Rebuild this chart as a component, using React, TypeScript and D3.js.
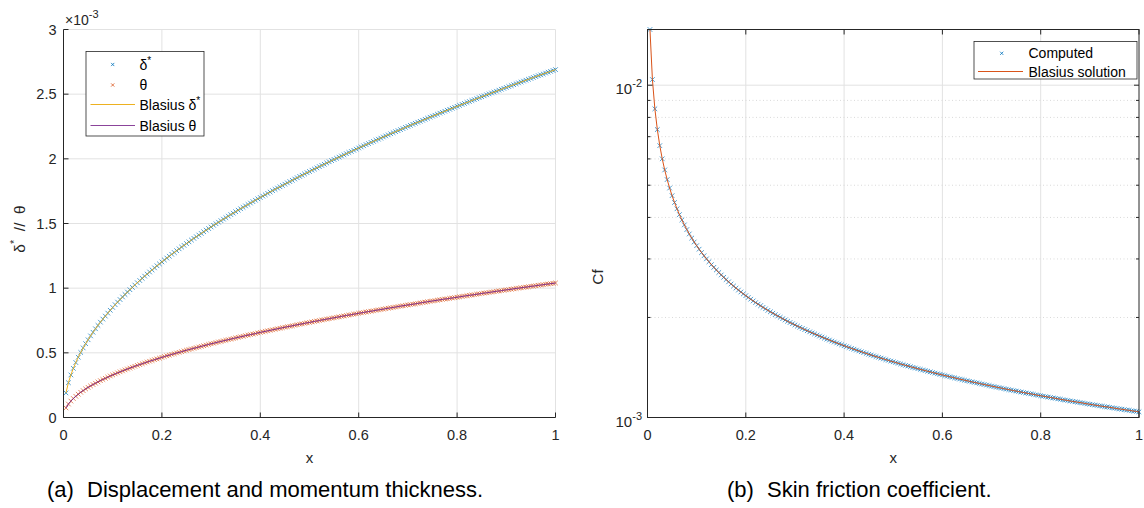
import React from "react";
import * as d3 from "d3";

// sample spacing of the computed stations along the plate
const X_STEP = 0.005;

// displacement thickness δ*, in units of 1e-3
const deltaStar = [
  0.190, 0.269, 0.329, 0.380, 0.425, 0.466, 0.503, 0.538, 0.571, 0.601,
  0.631, 0.659, 0.686, 0.712, 0.737, 0.761, 0.784, 0.807, 0.829, 0.851,
  0.872, 0.892, 0.912, 0.932, 0.951, 0.970, 0.988, 1.006, 1.024, 1.042,
  1.059, 1.076, 1.093, 1.109, 1.125, 1.141, 1.157, 1.173, 1.188, 1.203,
  1.218, 1.233, 1.247, 1.262, 1.276, 1.290, 1.304, 1.318, 1.331, 1.345,
  1.358, 1.372, 1.385, 1.398, 1.411, 1.423, 1.436, 1.449, 1.461, 1.473,
  1.486, 1.498, 1.510, 1.522, 1.534, 1.545, 1.557, 1.569, 1.580, 1.591,
  1.603, 1.614, 1.625, 1.636, 1.647, 1.658, 1.669, 1.680, 1.691, 1.701,
  1.712, 1.722, 1.733, 1.743, 1.754, 1.764, 1.774, 1.784, 1.794, 1.804,
  1.814, 1.824, 1.834, 1.844, 1.854, 1.864, 1.873, 1.883, 1.893, 1.902,
  1.912, 1.921, 1.930, 1.940, 1.949, 1.958, 1.968, 1.977, 1.986, 1.995,
  2.004, 2.013, 2.022, 2.031, 2.040, 2.049, 2.057, 2.066, 2.075, 2.084,
  2.092, 2.101, 2.110, 2.118, 2.127, 2.135, 2.144, 2.152, 2.160, 2.169,
  2.177, 2.185, 2.194, 2.202, 2.210, 2.218, 2.226, 2.234, 2.243, 2.251,
  2.259, 2.267, 2.275, 2.283, 2.290, 2.298, 2.306, 2.314, 2.322, 2.330,
  2.337, 2.345, 2.353, 2.360, 2.368, 2.376, 2.383, 2.391, 2.398, 2.406,
  2.413, 2.421, 2.428, 2.436, 2.443, 2.451, 2.458, 2.465, 2.473, 2.480,
  2.487, 2.495, 2.502, 2.509, 2.516, 2.523, 2.531, 2.538, 2.545, 2.552,
  2.559, 2.566, 2.573, 2.580, 2.587, 2.594, 2.601, 2.608, 2.615, 2.622,
  2.629, 2.636, 2.643, 2.649, 2.656, 2.663, 2.670, 2.676, 2.683, 2.690,
];

// momentum thickness θ, in units of 1e-3
const theta = [
  0.074, 0.104, 0.127, 0.147, 0.164, 0.180, 0.195, 0.208, 0.221, 0.233,
  0.244, 0.255, 0.265, 0.275, 0.285, 0.294, 0.303, 0.312, 0.321, 0.329,
  0.337, 0.345, 0.353, 0.360, 0.368, 0.375, 0.382, 0.389, 0.396, 0.403,
  0.409, 0.416, 0.422, 0.429, 0.435, 0.441, 0.447, 0.453, 0.459, 0.465,
  0.471, 0.477, 0.482, 0.488, 0.493, 0.499, 0.504, 0.509, 0.515, 0.520,
  0.525, 0.530, 0.535, 0.540, 0.545, 0.550, 0.555, 0.560, 0.565, 0.570,
  0.574, 0.579, 0.584, 0.588, 0.593, 0.597, 0.602, 0.606, 0.611, 0.615,
  0.620, 0.624, 0.628, 0.633, 0.637, 0.641, 0.645, 0.649, 0.654, 0.658,
  0.662, 0.666, 0.670, 0.674, 0.678, 0.682, 0.686, 0.690, 0.694, 0.698,
  0.702, 0.705, 0.709, 0.713, 0.717, 0.721, 0.724, 0.728, 0.732, 0.735,
  0.739, 0.743, 0.746, 0.750, 0.754, 0.757, 0.761, 0.764, 0.768, 0.771,
  0.775, 0.778, 0.782, 0.785, 0.789, 0.792, 0.795, 0.799, 0.802, 0.806,
  0.809, 0.812, 0.816, 0.819, 0.822, 0.825, 0.829, 0.832, 0.835, 0.838,
  0.842, 0.845, 0.848, 0.851, 0.854, 0.858, 0.861, 0.864, 0.867, 0.870,
  0.873, 0.876, 0.879, 0.882, 0.886, 0.889, 0.892, 0.895, 0.898, 0.901,
  0.904, 0.907, 0.910, 0.913, 0.916, 0.918, 0.921, 0.924, 0.927, 0.930,
  0.933, 0.936, 0.939, 0.942, 0.945, 0.947, 0.950, 0.953, 0.956, 0.959,
  0.962, 0.964, 0.967, 0.970, 0.973, 0.976, 0.978, 0.981, 0.984, 0.987,
  0.989, 0.992, 0.995, 0.998, 1.000, 1.003, 1.006, 1.008, 1.011, 1.014,
  1.016, 1.019, 1.022, 1.024, 1.027, 1.030, 1.032, 1.035, 1.037, 1.040,
];

// skin friction coefficient Cf, in units of 1e-3
const cf = [
  14.71, 10.40, 8.491, 7.354, 6.578, 6.004, 5.559, 5.200, 4.903, 4.651,
  4.435, 4.246, 4.079, 3.931, 3.798, 3.677, 3.567, 3.467, 3.374, 3.289,
  3.210, 3.136, 3.067, 3.002, 2.942, 2.884, 2.831, 2.780, 2.731, 2.685,
  2.642, 2.600, 2.560, 2.522, 2.486, 2.451, 2.418, 2.386, 2.355, 2.326,
  2.297, 2.270, 2.243, 2.217, 2.193, 2.169, 2.145, 2.123, 2.101, 2.080,
  2.060, 2.040, 2.020, 2.002, 1.983, 1.965, 1.948, 1.931, 1.915, 1.899,
  1.883, 1.868, 1.853, 1.839, 1.824, 1.810, 1.797, 1.784, 1.771, 1.758,
  1.746, 1.733, 1.721, 1.710, 1.698, 1.687, 1.676, 1.665, 1.655, 1.644,
  1.634, 1.624, 1.614, 1.605, 1.595, 1.586, 1.577, 1.568, 1.559, 1.550,
  1.542, 1.533, 1.525, 1.517, 1.509, 1.501, 1.493, 1.486, 1.478, 1.471,
  1.464, 1.456, 1.449, 1.442, 1.435, 1.429, 1.422, 1.415, 1.409, 1.402,
  1.396, 1.390, 1.384, 1.378, 1.372, 1.366, 1.360, 1.354, 1.348, 1.343,
  1.337, 1.332, 1.326, 1.321, 1.316, 1.310, 1.305, 1.300, 1.295, 1.290,
  1.285, 1.280, 1.275, 1.271, 1.266, 1.261, 1.257, 1.252, 1.248, 1.243,
  1.239, 1.234, 1.230, 1.226, 1.221, 1.217, 1.213, 1.209, 1.205, 1.201,
  1.197, 1.193, 1.189, 1.185, 1.181, 1.178, 1.174, 1.170, 1.166, 1.163,
  1.159, 1.156, 1.152, 1.149, 1.145, 1.142, 1.138, 1.135, 1.131, 1.128,
  1.125, 1.121, 1.118, 1.115, 1.112, 1.109, 1.106, 1.102, 1.099, 1.096,
  1.093, 1.090, 1.087, 1.084, 1.081, 1.078, 1.076, 1.073, 1.070, 1.067,
  1.064, 1.061, 1.059, 1.056, 1.053, 1.051, 1.048, 1.045, 1.043, 1.040,
];

const xs = deltaStar.map((_, i) => (i + 1) * X_STEP);

const xTicks = [0, 0.2, 0.4, 0.6, 0.8, 1];
const xTickLabels = ["0", "0.2", "0.4", "0.6", "0.8", "1"];
const leftYTicks = [0, 0.5, 1, 1.5, 2, 2.5, 3];
const leftYTickLabels = ["0", "0.5", "1", "1.5", "2", "2.5", "3"];
const cfMajorTicks = [1, 10]; // ×1e-3
const cfMajorExp = ["-3", "-2"];
const cfMinorTicks = [2, 3, 4, 5, 6, 7, 8, 9];
const cfDomain = [1, 14.71];

const C_BLUE = "#0072BD";
const C_ORANGE = "#D95319";
const C_YELLOW = "#EDB120";
const C_PURPLE = "#7E2F8E";
const AX = "#262626";
const GRID = "#e2e2e2";
const FONT = "'Liberation Sans', Arial, Helvetica, sans-serif";
const NB = "\u00a0";

function crossPath(px: number[], py: number[], h: number) {
  let d = "";
  for (let i = 0; i < px.length; i++) {
    const x = px[i], y = py[i];
    d += `M${x - h},${y - h}L${x + h},${y + h}M${x - h},${y + h}L${x + h},${y - h}`;
  }
  return d;
}

export default function App() {
  // Left panel
  const lx = d3.scaleLinear().domain([0, 1]).range([63.5, 555.5]);
  const ly = d3.scaleLinear().domain([0, 3]).range([417.5, 29.5]);
  // Right panel
  const rx = d3.scaleLinear().domain([0, 1]).range([647.5, 1139]);
  const ry = d3.scaleLog().domain(cfDomain).range([417.5, 29.5]);

  const lineL = (vals: number[]) =>
    d3.line<number>().x((_, i) => lx(xs[i])).y((v) => ly(v))(vals) || "";
  const lineR = d3.line<number>().x((_, i) => rx(xs[i])).y((v) => ry(v))(cf) || "";

  const MH = 2.3;
  const TL = 5;

  const [lx0, lx1] = lx.range();
  const [ly0, ly1] = ly.range();
  const [rx0, rx1] = rx.range();
  const [ry0, ry1] = ry.range();

  return (
    <svg
      width={1144}
      height={508}
      style={{ position: "absolute", left: 0, top: 0, background: "#fff" }}
      fontFamily={FONT}
    >
      <rect x={0} y={0} width={1144} height={508} fill="#fff" />

      {/* ===== LEFT PANEL ===== */}
      <g>
        {xTicks.map((t) =>
          t === 0 ? null : (
            <line key={"lgx" + t} x1={lx(t)} x2={lx(t)} y1={ly0} y2={ly1} stroke={GRID} strokeWidth={1} />
          )
        )}
        {leftYTicks.map((t) =>
          t === 0 ? null : (
            <line key={"lgy" + t} x1={lx0} x2={lx1} y1={ly(t)} y2={ly(t)} stroke={GRID} strokeWidth={1} />
          )
        )}
        {/* computed markers */}
        <path d={crossPath(xs.map(lx), deltaStar.map(ly), MH)} stroke={C_BLUE} strokeWidth={0.7} fill="none" />
        <path d={crossPath(xs.map(lx), theta.map(ly), MH)} stroke={C_ORANGE} strokeWidth={0.7} fill="none" />
        {/* Blasius lines */}
        <path d={lineL(deltaStar)} stroke={C_YELLOW} strokeWidth={1} fill="none" />
        <path d={lineL(theta)} stroke={C_PURPLE} strokeWidth={1} fill="none" />

        {/* axes */}
        <line x1={lx0} x2={lx0} y1={ly0} y2={ly1} stroke={AX} strokeWidth={1} />
        <line x1={lx0} x2={lx1} y1={ly0} y2={ly0} stroke={AX} strokeWidth={1} />
        {xTicks.map((t, i) => (
          <g key={"lxt" + t}>
            <line x1={lx(t)} x2={lx(t)} y1={ly0} y2={ly0 - TL} stroke={AX} strokeWidth={1} />
            <text x={lx(t)} y={ly0 + 22} fontSize={14.5} fill={AX} textAnchor="middle">
              {xTickLabels[i]}
            </text>
          </g>
        ))}
        {leftYTicks.map((t, i) => (
          <g key={"lyt" + t}>
            <line x1={lx0} x2={lx0 + TL} y1={ly(t)} y2={ly(t)} stroke={AX} strokeWidth={1} />
            <text x={lx0 - 7} y={ly(t) + 5} fontSize={14.5} fill={AX} textAnchor="end">
              {leftYTickLabels[i]}
            </text>
          </g>
        ))}
        {/* exponent */}
        <text x={65} y={25} fontSize={14} fill={AX}>
          ×10<tspan dy={-7} fontSize={11}>-3</tspan>
        </text>
        {/* axis labels */}
        <text x={(lx0 + lx1) / 2} y={463} fontSize={15} fill={AX} textAnchor="middle">x</text>
        <text transform="translate(25,229) rotate(-90)" fontSize={15.5} fill={AX} textAnchor="middle">
          δ<tspan dy={-7} fontSize={11}>*</tspan><tspan dy={7}>{NB + NB + "//" + NB + NB + "θ"}</tspan>
        </text>

        {/* legend */}
        <rect x={86} y={51.5} width={118} height={84.5} fill="#fff" stroke={AX} strokeWidth={0.8} />
        <path d={crossPath([112.7], [64.5], 1.6)} stroke={C_BLUE} strokeWidth={0.8} fill="none" />
        <path d={crossPath([112.7], [85], 1.6)} stroke={C_ORANGE} strokeWidth={0.8} fill="none" />
        <line x1={90.5} x2={135} y1={104.5} y2={104.5} stroke={C_YELLOW} strokeWidth={1} />
        <line x1={90.5} x2={135} y1={125.5} y2={125.5} stroke={C_PURPLE} strokeWidth={0.9} />
        <text x={139.5} y={69.5} fontSize={14} fill="#000">
          δ<tspan dy={-6} fontSize={10}>*</tspan>
        </text>
        <text x={139.5} y={90} fontSize={14} fill="#000">θ</text>
        <text x={139.5} y={109.5} fontSize={14} fill="#000">
          Blasius δ<tspan dy={-6} fontSize={10}>*</tspan>
        </text>
        <text x={139.5} y={130.5} fontSize={14} fill="#000">Blasius θ</text>

        {/* caption */}
        <text x={47} y={497} fontSize={22} fill="#000">(a)</text>
        <text x={87} y={497} fontSize={22} fill="#000">Displacement and momentum thickness.</text>
      </g>

      {/* ===== RIGHT PANEL ===== */}
      <g>
        {xTicks.map((t) =>
          t === 0 || t === 1 ? null : (
            <line key={"rgx" + t} x1={rx(t)} x2={rx(t)} y1={ry0} y2={ry1} stroke={GRID} strokeWidth={1} />
          )
        )}
        {cfMajorTicks.map((t) =>
          t === 1 ? null : (
            <line key={"rgy" + t} x1={rx0} x2={rx1} y1={ry(t)} y2={ry(t)} stroke={GRID} strokeWidth={1} />
          )
        )}
        {cfMinorTicks.map((t) => (
          <line key={"rgm" + t} x1={rx0} x2={rx1} y1={ry(t)} y2={ry(t)} stroke="#d9d9d9" strokeWidth={1} strokeDasharray="1,2.5" />
        ))}

        <path d={crossPath(xs.map(rx), cf.map(ry), MH)} stroke={C_BLUE} strokeWidth={0.7} fill="none" />
        <path d={lineR} stroke={C_ORANGE} strokeWidth={1} fill="none" />

        {/* box */}
        <rect x={rx0} y={ry1} width={rx1 - rx0} height={ry0 - ry1} fill="none" stroke={AX} strokeWidth={1} />
        {xTicks.map((t, i) => (
          <g key={"rxt" + t}>
            <line x1={rx(t)} x2={rx(t)} y1={ry0} y2={ry0 - TL} stroke={AX} strokeWidth={1} />
            <line x1={rx(t)} x2={rx(t)} y1={ry1} y2={ry1 + TL} stroke={AX} strokeWidth={1} />
            <text x={rx(t)} y={ry0 + 22} fontSize={14.5} fill={AX} textAnchor="middle">
              {xTickLabels[i]}
            </text>
          </g>
        ))}
        {cfMajorTicks.map((t, i) => (
          <g key={"ryt" + t}>
            <line x1={rx0} x2={rx0 + TL} y1={ry(t)} y2={ry(t)} stroke={AX} strokeWidth={1} />
            <line x1={rx1} x2={rx1 - TL} y1={ry(t)} y2={ry(t)} stroke={AX} strokeWidth={1} />
            <text x={642} y={ry(t) + 9} fontSize={15} fill={AX} textAnchor="end">
              10<tspan dy={-7} fontSize={11}>{cfMajorExp[i]}</tspan>
            </text>
          </g>
        ))}
        {cfMinorTicks.map((t) => (
          <g key={"rmt" + t}>
            <line x1={rx0} x2={rx0 + 3} y1={ry(t)} y2={ry(t)} stroke={AX} strokeWidth={1} />
            <line x1={rx1} x2={rx1 - 3} y1={ry(t)} y2={ry(t)} stroke={AX} strokeWidth={1} />
          </g>
        ))}

        <text x={(rx0 + rx1) / 2} y={463} fontSize={15} fill={AX} textAnchor="middle">x</text>
        <text transform="translate(603,277) rotate(-90)" fontSize={15.5} fill={AX} textAnchor="middle">Cf</text>

        {/* legend */}
        <rect x={974} y={41.5} width={163} height={37.5} fill="#fff" stroke={AX} strokeWidth={0.8} />
        <path d={crossPath([1001.7], [53.3], 1.6)} stroke={C_BLUE} strokeWidth={0.8} fill="none" />
        <line x1={978} x2={1023} y1={71.5} y2={71.5} stroke={C_ORANGE} strokeWidth={1} />
        <text x={1028.5} y={58.3} fontSize={14} fill="#000">Computed</text>
        <text x={1028.5} y={76.5} fontSize={14} fill="#000">Blasius solution</text>

        {/* caption */}
        <text x={727} y={497} fontSize={22} fill="#000">(b)</text>
        <text x={767} y={497} fontSize={22} fill="#000">Skin friction coefficient.</text>
      </g>
    </svg>
  );
}
